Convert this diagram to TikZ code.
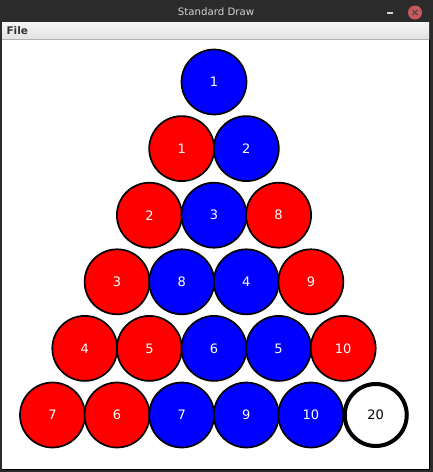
\documentclass[tikz,border=0pt]{standalone}
\usepackage{fontspec}
\setmainfont{DejaVu Sans}
\usetikzlibrary{positioning}
\definecolor{framebg}{HTML}{2B2B2B}
\definecolor{titlefg}{HTML}{D4D4D4}
\definecolor{menutop}{HTML}{F6F6F6}
\definecolor{menubot}{HTML}{E2E2E2}
\definecolor{closered}{HTML}{C9585A}
\definecolor{ballred}{HTML}{FF0000}
\definecolor{ballblue}{HTML}{0000FF}

\begin{document}
\begin{tikzpicture}[x=1pt,y=-1pt,
  ball/.style={circle,draw=black,line width=1.7pt,minimum size=65pt,inner sep=0pt,
    text=white,font=\fontsize{13}{15}\selectfont}]
\useasboundingbox (0,0) rectangle (433,472);
% window frame
\fill[framebg] (0,0) rectangle (433,472);
\shade[top color=menutop,bottom color=menubot] (2,22) rectangle (429,39);
\draw[gray!60] (2,39.5) -- (429,39.5);
\fill[white] (2,40) rectangle (429,469);
\draw[black,line width=1.5pt] (429.7,40) -- (429.7,469.7) -- (2,469.7);
\node[text=titlefg,font=\fontsize{10.2}{12}\selectfont] (title) at (216,12) {Standard Draw};
\draw[titlefg,line width=1.5pt] (387,13) -- (393,13);
\fill[closered] (415,12.5) circle (7);
\draw[gray!60!black,line width=1.2pt] (412.5,10) -- (417.5,15) (412.5,15) -- (417.5,10);
\node[anchor=west,text=black!80,font=\bfseries\fontsize{10.5}{12}\selectfont] (menu) at (3,30.5) {File};
% balls, row by row
\foreach \r/\k/\n/\c in {1/1/1/ballblue,
    2/1/1/ballred, 2/2/2/ballblue,
    3/1/2/ballred, 3/2/3/ballblue, 3/3/8/ballred,
    4/1/3/ballred, 4/2/8/ballblue, 4/3/4/ballblue, 4/4/9/ballred,
    5/1/4/ballred, 5/2/5/ballred, 5/3/6/ballblue, 5/4/5/ballblue, 5/5/10/ballred,
    6/1/7/ballred, 6/2/6/ballred, 6/3/7/ballblue, 6/4/9/ballblue, 6/5/10/ballblue}{
  \pgfmathsetmacro\bx{214+(\k-(\r+1)/2)*64.6}
  \pgfmathsetmacro\by{82+(\r-1)*66.6}
  \node[ball,fill=\c] (b\r\k) at (\bx,\by) {\n};
}
\node[ball,fill=white,text=black,line width=4pt,minimum size=62pt,right=-1.5pt of b65] (b66) {20};
\end{tikzpicture}
\end{document}
